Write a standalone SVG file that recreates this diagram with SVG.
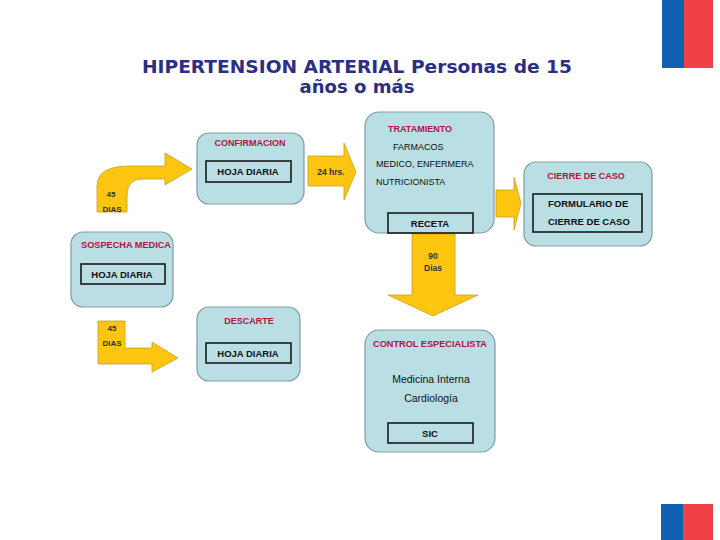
<svg xmlns="http://www.w3.org/2000/svg" width="720" height="540" viewBox="0 0 720 540">
<style>
.box{fill:#B9DEE3;stroke:#7F9DA3;stroke-width:1.2}
.inner{fill:none;stroke:#1a1a1a;stroke-width:1.6}
.arr{fill:#FCC50F;stroke:#C9A020;stroke-width:0.8}
.ttl{font-family:"Liberation Sans",Arial,sans-serif;font-weight:bold;font-size:9px;fill:#B4123E;text-anchor:middle}
.lbl{font-family:"Liberation Sans",Arial,sans-serif;font-weight:bold;font-size:9.5px;fill:#111;text-anchor:middle}
.txt{font-family:"Liberation Sans",Arial,sans-serif;font-size:9px;fill:#111}
.arrt{font-family:"Liberation Sans",Arial,sans-serif;font-weight:bold;font-size:8.5px;fill:#333;text-anchor:middle}
.sm{font-family:"Liberation Sans",Arial,sans-serif;font-weight:bold;font-size:8px;fill:#333;text-anchor:middle}
.head{font-family:"DejaVu Sans",Verdana,sans-serif;font-weight:bold;font-size:17px;fill:#2B2E83;text-anchor:middle}
</style>
<rect width="720" height="540" fill="#ffffff"/>
<g id="flag-top">
<rect x="662" y="0" width="22" height="68" fill="#0F62B0"/>
<rect x="684" y="0" width="29" height="68" fill="#EF4146"/>
</g>
<g id="flag-bottom">
<rect x="661" y="504" width="22" height="36" fill="#0F62B0"/>
<rect x="683" y="504" width="30" height="36" fill="#EF4146"/>
</g>
<g id="title">
<text class="head" x="357" y="73" textLength="430" lengthAdjust="spacingAndGlyphs">HIPERTENSION ARTERIAL Personas de 15</text>
<text class="head" x="357" y="93" textLength="115" lengthAdjust="spacingAndGlyphs">años o más</text>
</g>
<g id="connectors">
<g id="arrow-45-top">
<path class="arr" d="M97,212 L97,186 Q97,166 130,166 L165,166 L165,153 L192,169 L165,185 L165,179 L142,179 Q127,179 127,196 L127,212 Z"/>
<text class="sm" x="111" y="197">45</text>
<text class="sm" x="112" y="212">DIAS</text>
</g>
<g id="arrow-24">
<path class="arr" d="M308,156 L344,156 L344,143 L356,172 L344,200 L344,186 L308,186 Z"/>
<text class="arrt" x="331" y="175">24 hrs.</text>
</g>
<g id="arrow-cierre">
<path class="arr" d="M496,190 L514,190 L514,177 L521,203 L514,230 L514,217 L496,217 Z"/>
</g>
<g id="arrow-90">
<path class="arr" d="M412,234 L455,234 L455,295 L478,295 L433,316 L388,295 L412,295 Z"/>
<text class="arrt" x="433" y="259">90</text>
<text class="arrt" x="433" y="271">Dias</text>
</g>
<g id="arrow-45-bottom">
<path class="arr" d="M98,321 L125,321 L125,348 L152,348 L152,342 L178,358 L152,372 L152,364 L98,364 Z"/>
<text class="sm" x="112" y="331">45</text>
<text class="sm" x="112" y="346">DIAS</text>
</g>
</g>
<g id="confirmacion">
<rect class="box" x="197" y="133" width="107" height="71" rx="12"/>
<text class="ttl" x="250" y="146">CONFIRMACION</text>
<rect class="inner" x="206" y="161" width="85" height="21"/>
<text class="lbl" x="248" y="175">HOJA DIARIA</text>
</g>
<g id="sospecha">
<rect class="box" x="71" y="232" width="102" height="75" rx="12"/>
<text class="ttl" x="126" y="248" textLength="90" lengthAdjust="spacingAndGlyphs">SOSPECHA MEDICA</text>
<rect class="inner" x="81" y="264" width="84" height="20"/>
<text class="lbl" x="122" y="278">HOJA DIARIA</text>
</g>
<g id="descarte">
<rect class="box" x="197" y="307" width="103" height="74" rx="12"/>
<text class="ttl" x="249" y="324">DESCARTE</text>
<rect class="inner" x="206" y="343" width="85" height="20"/>
<text class="lbl" x="248" y="357">HOJA DIARIA</text>
</g>
<g id="tratamiento">
<rect class="box" x="365" y="112" width="129" height="121" rx="14"/>
<text class="ttl" x="420" y="132">TRATAMIENTO</text>
<text class="txt" x="393" y="150">FARMACOS</text>
<text class="txt" x="376" y="167">MEDICO, ENFERMERA</text>
<text class="txt" x="376" y="185">NUTRICIONISTA</text>
<rect class="inner" x="388" y="213" width="85" height="20"/>
<text class="lbl" x="430" y="227">RECETA</text>
</g>
<g id="cierre">
<rect class="box" x="524" y="162" width="128" height="84" rx="12"/>
<text class="ttl" x="586" y="179">CIERRE DE CASO</text>
<rect class="inner" x="533" y="194" width="109" height="38"/>
<text class="lbl" x="548" y="207" style="text-anchor:start">FORMULARIO DE</text>
<text class="lbl" x="548" y="225" style="text-anchor:start">CIERRE DE CASO</text>
</g>
<g id="control">
<rect class="box" x="365" y="330" width="130" height="122" rx="14"/>
<text class="ttl" x="430" y="347" textLength="114" lengthAdjust="spacingAndGlyphs">CONTROL ESPECIALISTA</text>
<text class="txt" x="431" y="383" text-anchor="middle" style="font-size:10.5px">Medicina Interna</text>
<text class="txt" x="431" y="402" text-anchor="middle" style="font-size:10.5px">Cardiología</text>
<rect class="inner" x="388" y="423" width="85" height="20"/>
<text class="lbl" x="430" y="437">SIC</text>
</g>
</svg>
